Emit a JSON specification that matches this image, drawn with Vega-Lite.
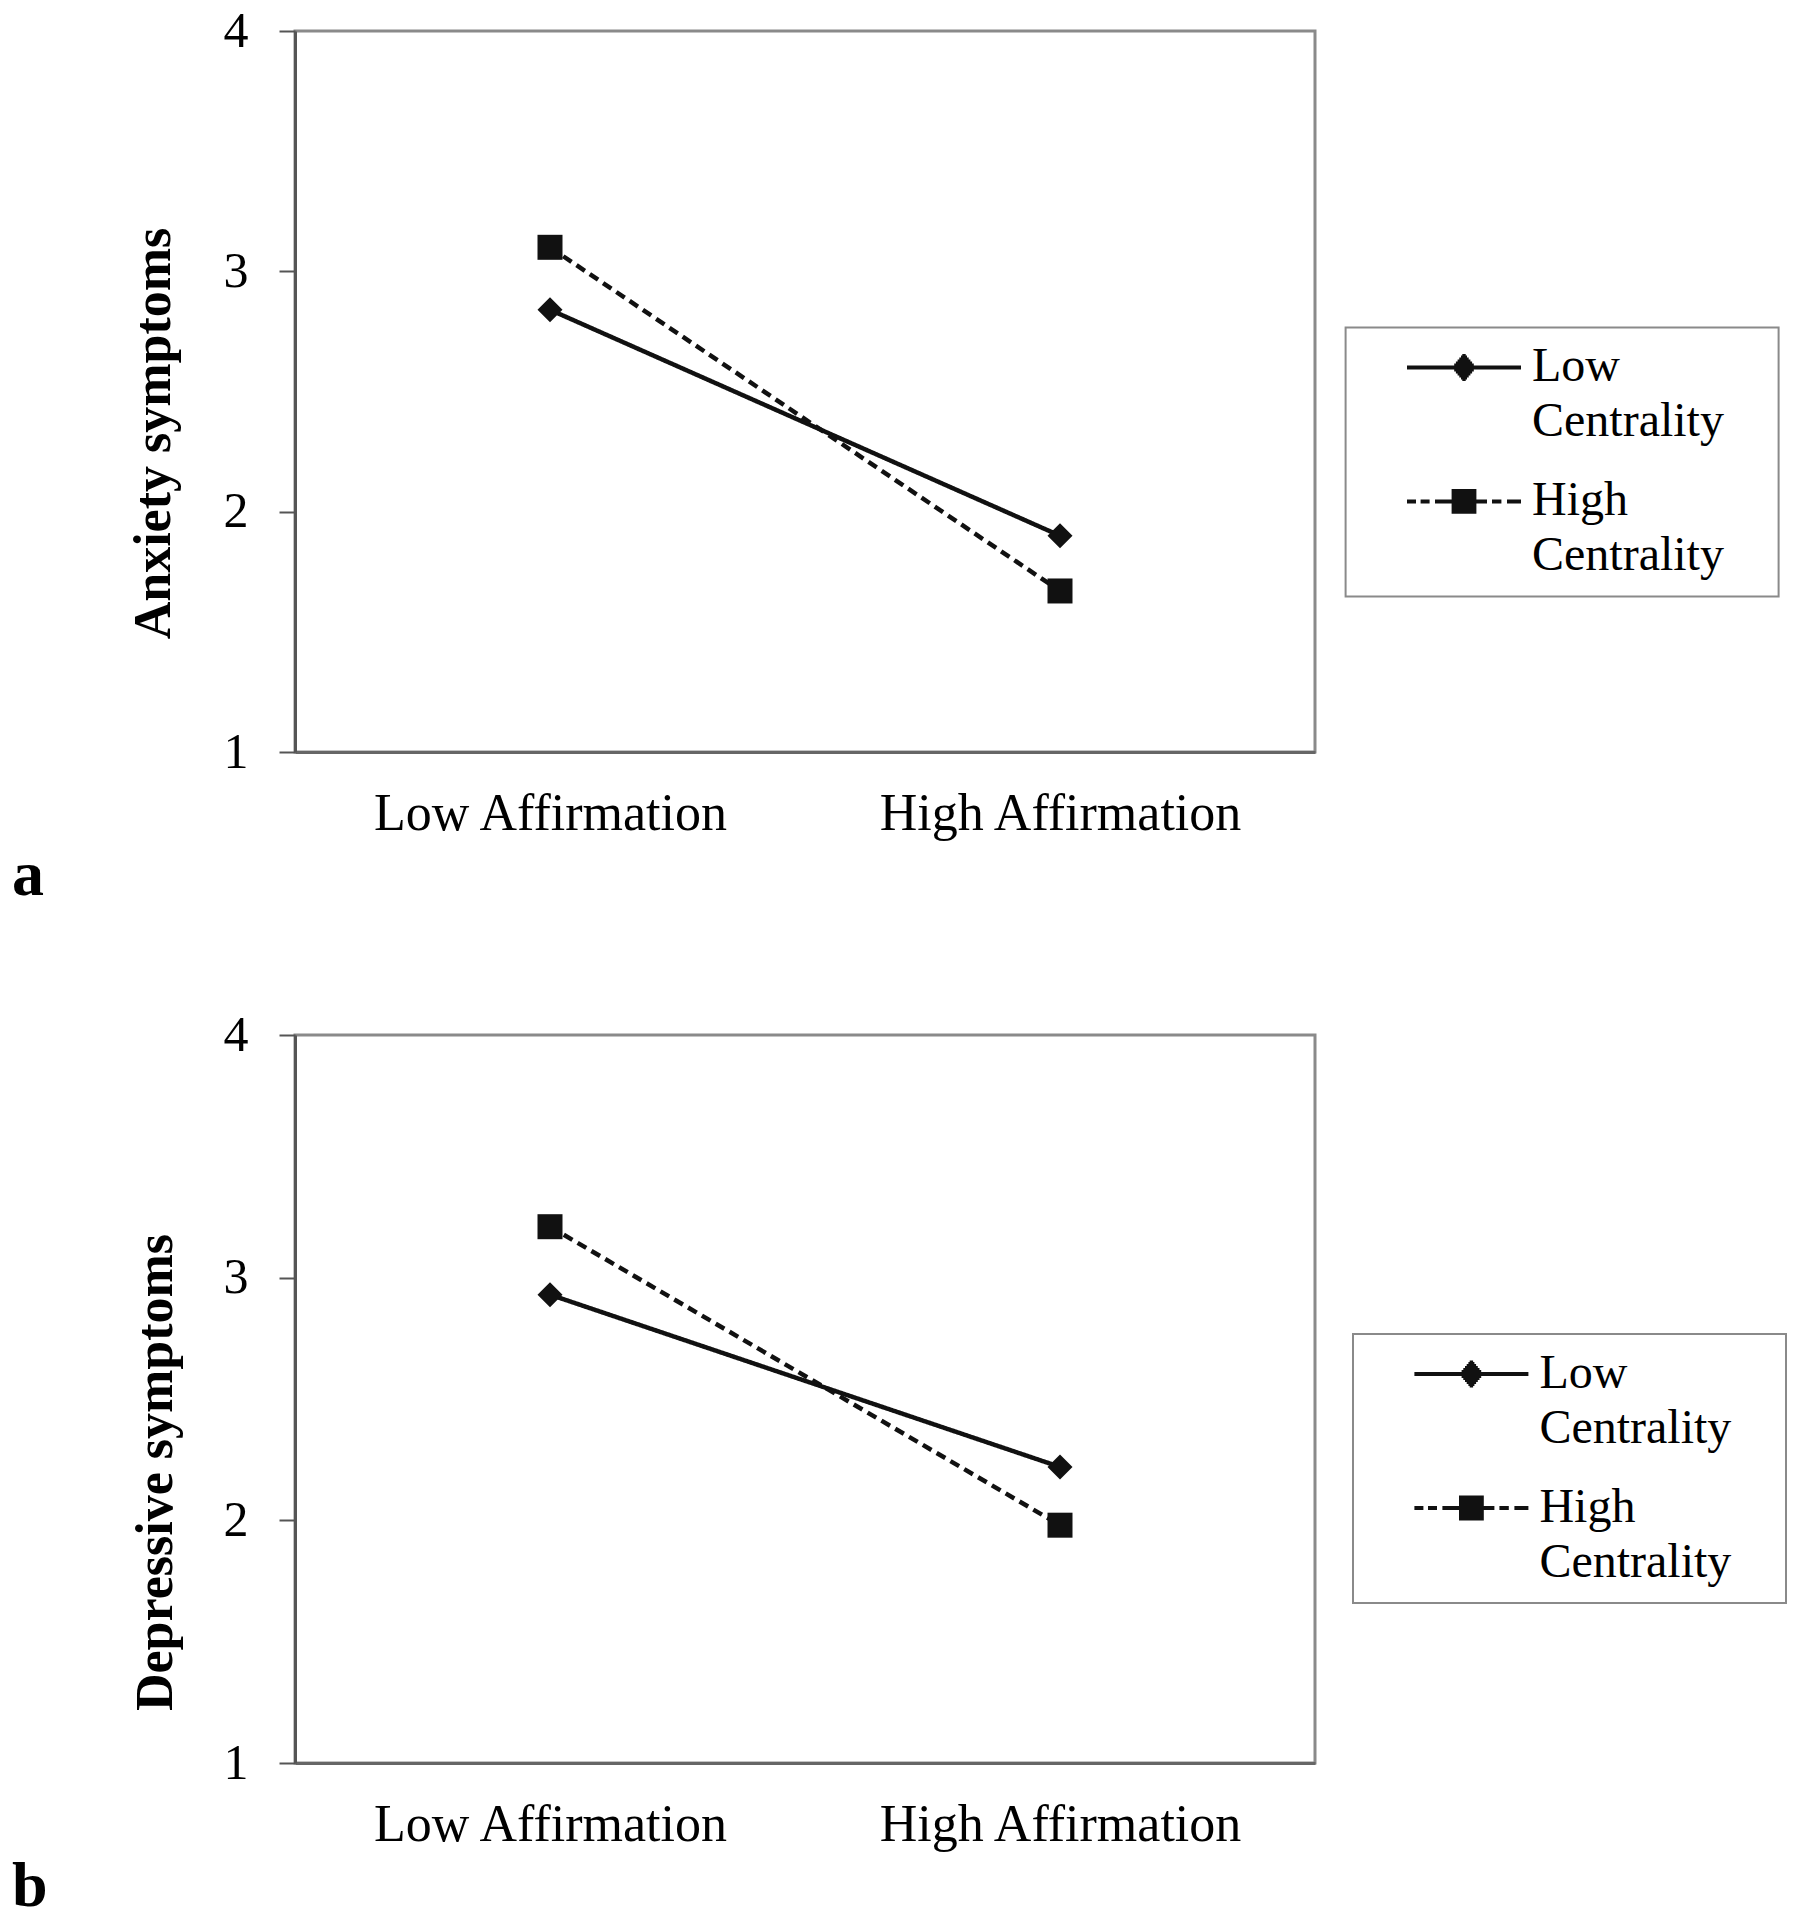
{
  "$schema": "https://vega.github.io/schema/vega-lite/v6.json",
  "background": "white",
  "padding": {"left": 10, "top": 4, "right": 0, "bottom": 0},
  "config": {
    "font": "Liberation Serif",
    "view": {"stroke": "#8a8a8a", "strokeWidth": 3},
    "axis": {"grid": false, "labelColor": "black", "titleColor": "black", "labelFont": "Liberation Serif", "titleFont": "Liberation Serif"},
    "legend": {"strokeWidth": 2},
    "style": {"guide-label": {"lineHeight": 55}}
  },
  "datasets": {
    "anxiety": [
      {"affirmation": "Low Affirmation", "centrality": "Low Centrality", "value": 2.84},
      {"affirmation": "High Affirmation", "centrality": "Low Centrality", "value": 1.90},
      {"affirmation": "Low Affirmation", "centrality": "High Centrality", "value": 3.10},
      {"affirmation": "High Affirmation", "centrality": "High Centrality", "value": 1.67}
    ],
    "depression": [
      {"affirmation": "Low Affirmation", "centrality": "Low Centrality", "value": 2.93},
      {"affirmation": "High Affirmation", "centrality": "Low Centrality", "value": 2.22},
      {"affirmation": "Low Affirmation", "centrality": "High Centrality", "value": 3.21},
      {"affirmation": "High Affirmation", "centrality": "High Centrality", "value": 1.98}
    ]
  },
  "spacing": 98,
  "columns": 1,
  "concat": [
    {
      "width": 1020,
      "height": 721,
      "data": {"name": "anxiety"},
      "title": {"text": "a", "orient": "bottom", "anchor": "start", "frame": "group", "fontSize": 64, "fontWeight": "bold", "font": "Liberation Serif", "color": "black", "baseline": "alphabetic", "offset": 56, "dx": -283},
      "encoding": {
        "x": {"field": "affirmation", "type": "nominal", "sort": ["Low Affirmation", "High Affirmation"],
          "scale": {"type": "point", "padding": 0.5, "domain": ["Low Affirmation", "High Affirmation"]},
          "axis": {"title": null, "ticks": false, "labelPadding": 36, "labelFontSize": 52, "labelAngle": 0, "labelLimit": 0, "domainColor": "#666", "domainWidth": 3}},
        "y": {"field": "value", "type": "quantitative",
          "scale": {"domain": [1, 4], "nice": false, "zero": false},
          "axis": {"title": "Anxiety symptoms", "values": [1, 2, 3, 4], "format": "d", "tickSize": 16, "tickWidth": 2, "tickColor": "#555", "domainColor": "#555", "domainWidth": 3, "labelFontSize": 50, "labelPadding": 31, "titleFontSize": 52, "titleFontWeight": "bold", "titleAngle": -90, "titleBaseline": "alphabetic", "titleAlign": "center", "titleX": -126, "titleY": 402}}
      },
      "layer": [
        {
          "mark": {"type": "line", "color": "#111", "strokeWidth": 4.5},
          "encoding": {
            "strokeDash": {"field": "centrality", "type": "nominal", "scale": {"domain": ["High Centrality", "Low Centrality"], "range": [[10, 6], [1, 0]]}, "legend": null}
          }
        },
        {
          "transform": [{"filter": "datum.centrality === 'Low Centrality'"}],
          "mark": {"type": "point", "shape": "diamond", "filled": true, "color": "#111", "opacity": 1, "size": 625}
        },
        {
          "transform": [{"filter": "datum.centrality === 'High Centrality'"}],
          "mark": {"type": "point", "shape": "square", "filled": true, "color": "#111", "opacity": 1, "size": 625}
        },
        {
          "mark": {"type": "point", "filled": false, "color": "#111", "strokeWidth": 4, "opacity": 0},
          "encoding": {
            "shape": {"field": "centrality", "type": "nominal",
              "scale": {"domain": ["Low Centrality", "High Centrality"], "range": [
                "M-2.85,0H2.85M-0.49,-0.1H0.49M-0.49,0.1H0.49M-0.405,-0.2H0.405M-0.405,0.2H0.405M-0.32,-0.3H0.32M-0.32,0.3H0.32M-0.235,-0.4H0.235M-0.235,0.4H0.235M-0.15,-0.5H0.15M-0.15,0.5H0.15M-0.085,-0.575H0.085M-0.085,0.575H0.085M14.51,0",
                "M-2.85,0H-2.4M-2.17,0H-1.72M-1.45,0H-0.62M0.62,0H1.15M1.4,0H1.87M2.15,0H2.85M-0.62,-0.52H0.62M-0.62,-0.39H0.62M-0.62,-0.26H0.62M-0.62,-0.13H0.62M-0.62,0H0.62M-0.62,0.13H0.62M-0.62,0.26H0.62M-0.62,0.39H0.62M-0.62,0.52H0.62M14.51,0"]},
              "legend": {"title": null, "orient": "none", "legendX": 1050.6, "legendY": 296.4, "padding": 16, "strokeColor": "#8a8a8a", "fillColor": "white",
                "symbolSize": 1600, "symbolOffset": 78.4, "labelOffset": 44, "rowPadding": 31,
                "symbolStrokeWidth": 4, "symbolOpacity": 1,
                "labelFont": "Liberation Serif", "labelFontSize": 48, "labelColor": "black", "labelLimit": 0,
                "labelExpr": "split(datum.label, ' ')"}}
          }
        }
      ]
    },
    {
      "width": 1020,
      "height": 728,
      "data": {"name": "depression"},
      "title": {"text": "b", "orient": "bottom", "anchor": "start", "frame": "group", "fontSize": 64, "fontWeight": "bold", "font": "Liberation Serif", "color": "black", "baseline": "alphabetic", "offset": 56, "dx": -283},
      "encoding": {
        "x": {"field": "affirmation", "type": "nominal", "sort": ["Low Affirmation", "High Affirmation"],
          "scale": {"type": "point", "padding": 0.5, "domain": ["Low Affirmation", "High Affirmation"]},
          "axis": {"title": null, "ticks": false, "labelPadding": 36, "labelFontSize": 52, "labelAngle": 0, "labelLimit": 0, "domainColor": "#666", "domainWidth": 3}},
        "y": {"field": "value", "type": "quantitative",
          "scale": {"domain": [1, 4], "nice": false, "zero": false},
          "axis": {"title": "Depressive symptoms", "values": [1, 2, 3, 4], "format": "d", "tickSize": 16, "tickWidth": 2, "tickColor": "#555", "domainColor": "#555", "domainWidth": 3, "labelFontSize": 50, "labelPadding": 31, "titleFontSize": 52, "titleFontWeight": "bold", "titleAngle": -90, "titleBaseline": "alphabetic", "titleAlign": "center", "titleX": -123.3, "titleY": 437}}
      },
      "layer": [
        {
          "mark": {"type": "line", "color": "#111", "strokeWidth": 4.5},
          "encoding": {
            "strokeDash": {"field": "centrality", "type": "nominal", "scale": {"domain": ["High Centrality", "Low Centrality"], "range": [[10, 6], [1, 0]]}, "legend": null}
          }
        },
        {
          "transform": [{"filter": "datum.centrality === 'Low Centrality'"}],
          "mark": {"type": "point", "shape": "diamond", "filled": true, "color": "#111", "opacity": 1, "size": 625}
        },
        {
          "transform": [{"filter": "datum.centrality === 'High Centrality'"}],
          "mark": {"type": "point", "shape": "square", "filled": true, "color": "#111", "opacity": 1, "size": 625}
        },
        {
          "mark": {"type": "point", "filled": false, "color": "#111", "strokeWidth": 4, "opacity": 0},
          "encoding": {
            "shape": {"field": "centrality", "type": "nominal",
              "scale": {"domain": ["Low Centrality", "High Centrality"], "range": [
                "M-2.85,0H2.85M-0.49,-0.1H0.49M-0.49,0.1H0.49M-0.405,-0.2H0.405M-0.405,0.2H0.405M-0.32,-0.3H0.32M-0.32,0.3H0.32M-0.235,-0.4H0.235M-0.235,0.4H0.235M-0.15,-0.5H0.15M-0.15,0.5H0.15M-0.085,-0.575H0.085M-0.085,0.575H0.085M14.51,0",
                "M-2.85,0H-2.4M-2.17,0H-1.72M-1.45,0H-0.62M0.62,0H1.15M1.4,0H1.87M2.15,0H2.85M-0.62,-0.52H0.62M-0.62,-0.39H0.62M-0.62,-0.26H0.62M-0.62,-0.13H0.62M-0.62,0H0.62M-0.62,0.13H0.62M-0.62,0.26H0.62M-0.62,0.39H0.62M-0.62,0.52H0.62M14.51,0"]},
              "legend": {"title": null, "orient": "none", "legendX": 1058, "legendY": 299, "padding": 16, "strokeColor": "#8a8a8a", "fillColor": "white",
                "symbolSize": 1600, "symbolOffset": 78.4, "labelOffset": 44, "rowPadding": 31,
                "symbolStrokeWidth": 4, "symbolOpacity": 1,
                "labelFont": "Liberation Serif", "labelFontSize": 48, "labelColor": "black", "labelLimit": 0,
                "labelExpr": "split(datum.label, ' ')"}}
          }
        }
      ]
    }
  ],
  "resolve": {"scale": {"shape": "independent", "strokeDash": "independent", "x": "independent", "y": "independent"}, "legend": {"shape": "independent", "strokeDash": "independent"}}
}
